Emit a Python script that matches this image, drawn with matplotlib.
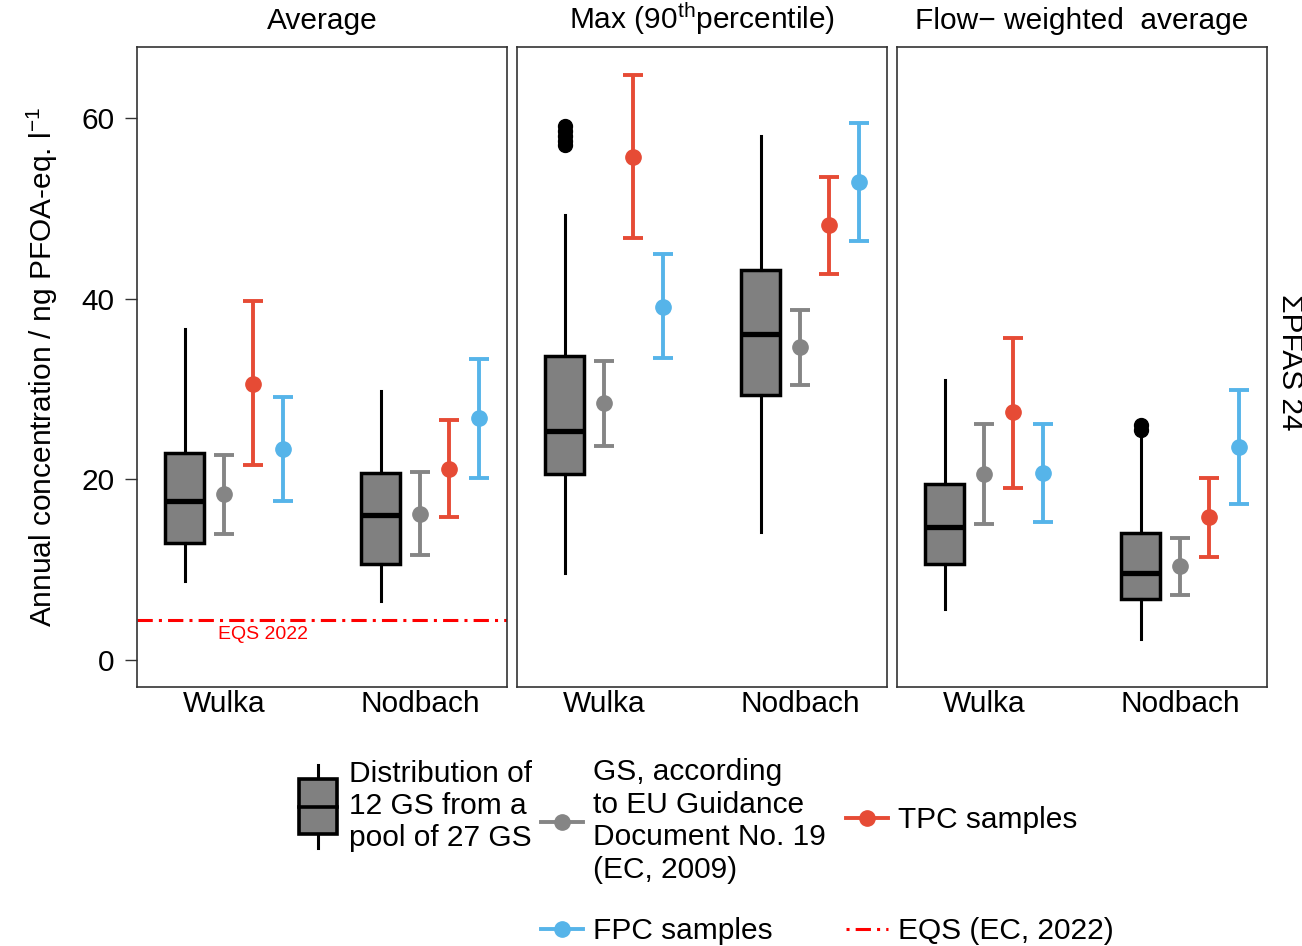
import matplotlib
matplotlib.use("Agg")
import matplotlib.pyplot as plt
from matplotlib.legend_handler import HandlerBase
from matplotlib.patches import Rectangle
from matplotlib.lines import Line2D

plt.rcParams['font.family'] = ['Liberation Sans', 'DejaVu Sans']
plt.rcParams['mathtext.fontset'] = 'custom'
plt.rcParams['mathtext.rm'] = 'Liberation Sans'
plt.rcParams['mathtext.it'] = 'Liberation Sans:italic'

sites = ["Wulka", "Nodbach"]
panel_titles = ["Average", r"Max (90$^{\mathrm{th}}$percentile)", "Flow\u2212 weighted  average"]

# box plots: distribution of 12 GS (one row per panel, Wulka / Nodbach)
box_whislo = [[8.7, 6.5], [9.6, 14.2], [5.7, 2.3]]
box_q1 = [[12.9, 10.6], [20.6, 29.3], [10.6, 6.7]]
box_med = [[17.6, 16.1], [25.3, 36.1], [14.7, 9.6]]
box_q3 = [[22.9, 20.7], [33.7, 43.2], [19.5, 14.1]]
box_whishi = [[36.6, 29.8], [49.3, 58.0], [31.0, 25.0]]
box_fliers = [[[], []], [[57.0, 57.5, 58.0, 58.6, 59.1], []], [[], [25.5, 26.0]]]

# GS according to EU guidance
gs_mid = [[18.4, 16.2], [28.4, 34.6], [20.6, 10.4]]
gs_lo = [[14.0, 11.6], [23.7, 30.4], [15.1, 7.2]]
gs_hi = [[22.7, 20.8], [33.1, 38.8], [26.1, 13.5]]

# TPC samples
tpc_mid = [[30.6, 21.1], [55.7, 48.1], [27.4, 15.8]]
tpc_lo = [[21.6, 15.8], [46.7, 42.7], [19.0, 11.4]]
tpc_hi = [[39.7, 26.6], [64.8, 53.5], [35.7, 20.1]]

# FPC samples
fpc_mid = [[23.4, 26.8], [39.1, 52.9], [20.7, 23.6]]
fpc_lo = [[17.6, 20.2], [33.4, 46.4], [15.3, 17.3]]
fpc_hi = [[29.1, 33.3], [44.9, 59.4], [26.1, 29.9]]

eqs = 4.4

RED = "#E64B35"
BLUE = "#56B4E9"
GREY = "#858585"
BOXFILL = "#808080"
SPINE = "#333333"
FS = 21.5
EQS_DASH = (5, 2, 1, 2)


class BoxKey(HandlerBase):
    def create_artists(self, legend, orig_handle, xdescent, ydescent,
                       width, height, fontsize, trans):
        cx = width / 2 - xdescent
        cy = height / 2 - ydescent
        bw, bh, wh = 13.5, 20, 30
        rect = Rectangle((cx - bw, cy - bh), 2 * bw, 2 * bh, fc=BOXFILL,
                         ec="black", lw=2.6, transform=trans)
        med = Line2D([cx - bw, cx + bw], [cy, cy], color="black", lw=2.6, transform=trans)
        w1 = Line2D([cx, cx], [cy + bh, cy + wh], color="black", lw=2.2, transform=trans)
        w2 = Line2D([cx, cx], [cy - bh, cy - wh], color="black", lw=2.2, transform=trans)
        return [w1, w2, rect, med]


fig = plt.figure(figsize=(13.02, 9.46), dpi=100)
lefts = [137, 517, 897]
pos = [1, 2]
for p in range(3):
    ax = fig.add_axes([lefts[p] / 1302, 1 - 687 / 946, 370 / 1302, 640 / 946])
    stats = []
    for i in range(2):
        stats.append(dict(med=box_med[p][i], q1=box_q1[p][i], q3=box_q3[p][i],
                          whislo=box_whislo[p][i], whishi=box_whishi[p][i],
                          fliers=box_fliers[p][i]))
    ax.bxp(stats, positions=[x - 0.2 for x in pos], widths=0.2, patch_artist=True,
           showcaps=False,
           boxprops=dict(facecolor=BOXFILL, edgecolor="black", linewidth=2.5),
           medianprops=dict(color="black", linewidth=3.8),
           whiskerprops=dict(color="black", linewidth=2.2),
           flierprops=dict(marker="o", markerfacecolor="black", markeredgecolor="black",
                           markersize=10))
    for off, mid, lo, hi, col in [(0.0, gs_mid, gs_lo, gs_hi, GREY),
                                  (0.15, tpc_mid, tpc_lo, tpc_hi, RED),
                                  (0.3, fpc_mid, fpc_lo, fpc_hi, BLUE)]:
        xs = [x + off for x in pos]
        yerr = [[mid[p][i] - lo[p][i] for i in range(2)],
                [hi[p][i] - mid[p][i] for i in range(2)]]
        ax.errorbar(xs, mid[p], yerr=yerr, fmt="o", color=col, ms=11,
                    elinewidth=2.8, capsize=7, capthick=2.8)
    if p == 0:
        ax.axhline(eqs, color="red", lw=2.2, linestyle=(0, EQS_DASH))
        ax.text(1.2, eqs - 0.6, "EQS 2022", color="red", fontsize=14,
                ha="center", va="top")
    ax.set_xlim(0.556, 2.444)
    ax.set_ylim(-2.99, 67.86)
    ax.set_xticks(pos)
    ax.set_xticklabels(sites, fontsize=FS)
    ax.tick_params(axis="x", length=0, pad=2)
    if p == 0:
        ax.set_yticks([0, 20, 40, 60])
        ax.tick_params(axis="y", length=9, width=1, color=SPINE, pad=7, labelsize=FS)
    else:
        ax.set_yticks([])
    for s in ax.spines.values():
        s.set_color(SPINE)
        s.set_linewidth(1.2)
    ax.set_title(panel_titles[p], fontsize=FS, pad=13)

fig.text(42 / 1302, 1 - 367 / 946, r"Annual concentration / ng PFOA-eq. l$^{-1}$",
         rotation=90, ha="center", va="center", fontsize=FS)
fig.text(1290 / 1302, 1 - 362 / 946, "\u03a3PFAS 24", rotation=270,
         ha="center", va="center", fontsize=FS)

# legend, one entry at a time so the rows line up like the original
box_handle = Rectangle((0, 0), 1, 1)
entries = [
    (box_handle, "Distribution of\n12 GS from a\npool of 27 GS", 297, 806),
    (Line2D([], [], color=GREY, lw=2.8, marker="o", ms=11),
     "GS, according\nto EU Guidance\nDocument No. 19\n(EC, 2009)", 541, 821),
    (Line2D([], [], color=RED, lw=2.8, marker="o", ms=11), "TPC samples", 846, 820),
    (Line2D([], [], color=BLUE, lw=2.8, marker="o", ms=11), "FPC samples", 541, 931),
    (Line2D([], [], color="red", lw=2.2, linestyle=(7, EQS_DASH)), "EQS (EC, 2022)", 846, 931),
]
for h, lab, px, py in entries:
    fig.legend([h], [lab], loc="center left", bbox_to_anchor=(px / 1302, 1 - py / 946),
               frameon=False, fontsize=FS, borderpad=0, borderaxespad=0,
               handlelength=1.4, handletextpad=0.35, labelspacing=0,
               handler_map={Rectangle: BoxKey()})

fig.savefig("out.png", dpi=100)
